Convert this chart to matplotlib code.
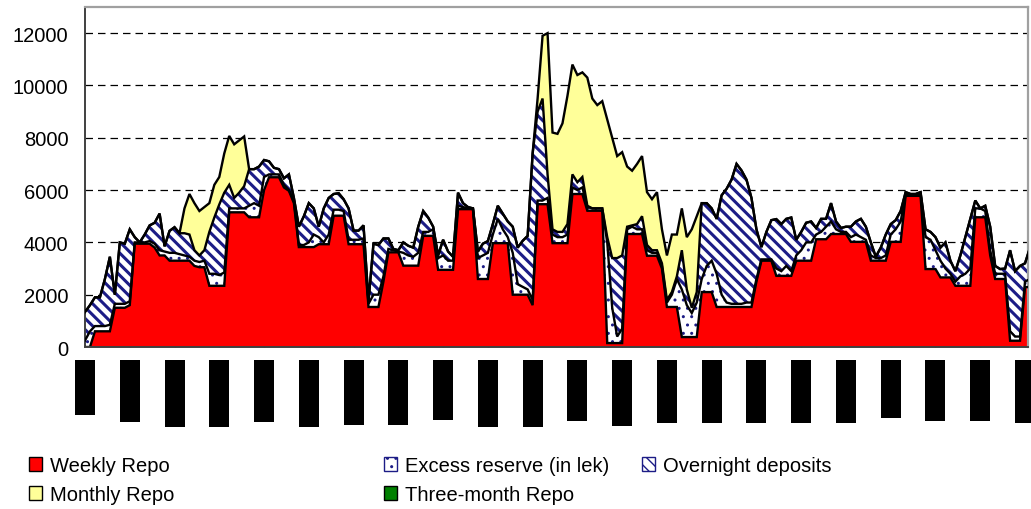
import numpy as np
import matplotlib
matplotlib.use("Agg")
import matplotlib.pyplot as plt
import matplotlib.transforms as mtransforms
from matplotlib.patches import Patch, Rectangle

plt.rcParams['font.family'] = ['Liberation Sans', 'DejaVu Sans']
plt.rcParams['hatch.color'] = '#1c1c86'

# daily observations, 9 steps per month tick
weekly_repo = [
    0, 0, 600, 600, 600, 600, 1500, 1500, 1500, 1600,
    3950, 3950, 3950, 3950, 3800, 3500, 3500, 3300, 3300, 3300,
    3300, 3300, 3100, 3050, 3050, 2340, 2340, 2340, 2340, 5150,
    5150, 5150, 5150, 4960, 4960, 4960, 6000, 6490, 6490, 6490,
    6100, 5970, 5500, 3820, 3820, 3820, 3820, 3930, 3930, 3930,
    5020, 5020, 5020, 3930, 3930, 3930, 3930, 1530, 1530, 1530,
    2500, 3620, 3620, 3620, 3110, 3110, 3110, 3110, 4250, 4250,
    4250, 2950, 2950, 2950, 2950, 5270, 5270, 5270, 5270, 2600,
    2600, 2600, 3970, 3970, 3970, 3970, 2000, 2000, 2000, 2000,
    1600, 5460, 5460, 5460, 3970, 3970, 3970, 3970, 5850, 5850,
    5850, 5210, 5210, 5210, 5210, 150, 150, 150, 150, 4320,
    4320, 4320, 4320, 3490, 3490, 3490, 3000, 1530, 1530, 1530,
    380, 380, 380, 380, 2100, 2100, 2100, 1530, 1530, 1530,
    1530, 1530, 1530, 1530, 1530, 2500, 3300, 3300, 3300, 2720,
    2720, 2720, 2720, 3300, 3300, 3300, 3300, 4120, 4120, 4120,
    4320, 4320, 4320, 4320, 4020, 4020, 4020, 4020, 3300, 3300,
    3300, 3300, 4020, 4020, 4020, 5780, 5780, 5780, 5780, 2980,
    2980, 2980, 2660, 2660, 2660, 2340, 2340, 2340, 2340, 4960,
    4960, 4960, 3500, 2600, 2600, 2600, 240, 240, 240, 2290,
    2290]

# weekly repo + excess reserve
reserve_top = [
    250, 600, 800, 800, 800, 850, 1650, 1650, 1650, 1750,
    4000, 4000, 4000, 4050, 3950, 3700, 3650, 3600, 3600, 3550,
    3500, 3450, 3300, 3250, 3300, 2800, 2800, 2750, 2850, 5300,
    5300, 5300, 5300, 5400, 5500, 5400, 6500, 6600, 6600, 6600,
    6200, 6000, 5600, 3900, 3900, 4000, 4300, 4200, 4000, 4300,
    5250, 5250, 5200, 4100, 4100, 4100, 4150, 1650, 2000, 2000,
    2700, 3750, 3700, 3650, 3600, 3500, 3450, 3600, 4400, 4400,
    4500, 3400, 3500, 3300, 3300, 5400, 5350, 5300, 5300, 3400,
    3500, 3600, 4300, 4900, 4500, 4200, 3600, 2400, 2300, 2200,
    1800, 5600, 5600, 5700, 4300, 4200, 4200, 4300, 6100, 6000,
    6100, 5350, 5300, 5300, 5300, 4000, 1500, 400, 700, 4500,
    4600, 4500, 4500, 3700, 3600, 3600, 3100, 1700, 2000, 2600,
    2200, 1600, 1300, 1700, 2600, 3100, 3300, 2800, 2000, 1700,
    1650, 1650, 1650, 1700, 1700, 2600, 3350, 3350, 3350, 3000,
    2900, 3100, 2900, 3500, 3700, 4000, 4000, 4300, 4400, 4600,
    4800, 4500, 4400, 4400, 4200, 4300, 4200, 4100, 3500, 3400,
    3400, 3500, 4300, 4500, 4800, 5850, 5800, 5800, 5850, 4200,
    4100, 3700, 3300, 3000, 2800, 2500, 2700, 2800, 3000, 5300,
    5300, 5200, 3700, 2800, 2800, 2800, 600, 400, 400, 2500,
    2600]

monthly_repo = [
    0, 0, 0, 0, 0, 0, 0, 0, 0, 0,
    0, 0, 0, 0, 0, 0, 0, 0, 0, 0,
    950, 1550, 1800, 1700, 1650, 1100, 1250, 1050, 1500, 1870,
    2050, 2000, 1900, 0, 0, 0, 0, 0, 0, 0,
    0, 0, 0, 0, 0, 0, 0, 0, 0, 0,
    0, 0, 0, 0, 0, 0, 0, 0, 0, 0,
    0, 0, 0, 0, 0, 0, 0, 0, 0, 0,
    0, 0, 0, 0, 0, 0, 0, 0, 0, 0,
    0, 0, 0, 0, 0, 0, 0, 0, 0, 0,
    0, 500, 2400, 5400, 3700, 3750, 4150, 4900, 4200, 4100,
    4000, 4900, 4200, 3950, 4100, 4500, 4600, 3900, 3950, 2300,
    2090, 2300, 2300, 2020, 1950, 2220, 1300, 1700, 2200, 1600,
    1600, 2000, 3000, 2900, 0, 0, 0, 0, 0, 0,
    0, 0, 0, 0, 0, 0, 0, 0, 0, 0,
    0, 0, 0, 0, 0, 0, 0, 0, 0, 0,
    0, 0, 0, 0, 0, 0, 0, 0, 0, 0,
    0, 0, 0, 0, 0, 0, 0, 0, 0, 0,
    0, 0, 0, 0, 0, 0, 0, 0, 0, 0,
    0, 0, 0, 0, 0, 0, 0, 0, 0, 0,
    0]

# total of all instruments
stack_top = [
    1340, 1600, 1900, 1900, 2600, 3450, 2000, 4000, 3950, 4500,
    4200, 4000, 4300, 4650, 4750, 5100, 3850, 4440, 4580, 4350,
    5300, 5850, 5500, 5200, 5350, 5500, 6200, 6500, 7400, 8070,
    7750, 7900, 8050, 6800, 6800, 6900, 7150, 7100, 6850, 6800,
    6450, 6600, 5700, 4600, 5000, 5500, 5300, 4600, 5300, 5700,
    5850, 5880, 5650, 5300, 4450, 4450, 4650, 1750, 3950, 3900,
    4150, 4150, 3750, 3700, 4000, 3870, 3800, 4600, 5200, 4950,
    4600, 3500, 4100, 3650, 3450, 5900, 5500, 5350, 5300, 3650,
    3950, 4050, 4700, 5400, 5100, 4800, 4600, 3800, 4060, 4250,
    7400, 9500, 11900, 12000, 8200, 8150, 8550, 9600, 10800, 10400,
    10500, 10300, 9500, 9250, 9400, 8700, 8000, 7300, 7450, 6900,
    6740, 7000, 7300, 5920, 5650, 5920, 4500, 3500, 4300, 4300,
    5300, 4200, 4500, 5000, 5500, 5500, 5300, 4900, 5800, 6050,
    6400, 7000, 6750, 6400, 5700, 4500, 3820, 4400, 4850, 4890,
    4700, 4900, 4950, 4100, 4400, 4750, 4800, 4550, 4900, 4900,
    5500, 4800, 4550, 4600, 4600, 4800, 4900, 4600, 4000, 3450,
    3800, 4300, 4700, 4850, 5200, 5920, 5850, 5850, 5920, 4500,
    4400, 4200, 3800, 4000, 3300, 2900, 3500, 4200, 4900, 5600,
    5300, 5400, 4600, 3100, 2980, 3000, 3700, 2900, 3100, 3200,
    3800]

three_month_repo = np.zeros(len(weekly_repo))

# hidden month labels: drawn as solid blocks, length in pixels
label_len = [55, 62, 67, 67, 62, 67, 65, 65, 60, 67, 67,
             61, 66, 63, 63, 63, 63, 63, 58, 61, 61, 63]

weekly = np.array(weekly_repo, float)
excess = np.array(reserve_top, float) - weekly
monthly = np.array(monthly_repo, float)
overnight = np.array(stack_top, float) - monthly - weekly - excess
x = np.arange(len(weekly))

y1 = weekly
y2 = y1 + excess
y3 = y2 + overnight
y4 = y3 + monthly
y5 = y4 + three_month_repo

fig = plt.figure(figsize=(10.31, 5.10), dpi=100)
ax = fig.add_axes([85/1031, 1-348/510, 943/1031, 340/510])

navy = '#1c1c86'
ax.fill_between(x, 0, y1, facecolor='#ff0000', lw=0, zorder=2)
with plt.rc_context({'hatch.linewidth': 1.0}):
    ax.fill_between(x, y1, y2, facecolor='white', edgecolor=navy, hatch='..', lw=0, zorder=2)
with plt.rc_context({'hatch.linewidth': 2.2}):
    ax.fill_between(x, y2, y3, facecolor='white', edgecolor=navy, hatch='\\\\\\', lw=0, zorder=2)
ax.fill_between(x, y3, y4, facecolor='#ffff99', lw=0, zorder=2)
ax.fill_between(x, y4, y5, facecolor='#008000', lw=0, zorder=2)
for y in (y1, y2, y3, y4):
    ax.plot(x, y, color='black', lw=1.7, zorder=3, solid_joinstyle='miter')

ax.set_xlim(0, 189.6)
ax.set_ylim(0, 13000)
ax.set_yticks(range(0, 12001, 2000))
ax.set_yticklabels([str(v) for v in range(0, 12001, 2000)], fontsize=14.5)
ax.tick_params(axis='y', length=0, pad=12)
ticks = np.arange(0, 190, 9)
ax.set_xticks(ticks)
ax.set_xticklabels([])
ax.tick_params(axis='x', direction='in', length=4, width=1, color='#333333')
ax.grid(axis='y', color='black', linestyle=(0, (6, 4)), lw=0.9)
ax.set_axisbelow(True)

for side in ('top', 'right'):
    ax.spines[side].set_color('#a0a0a0')
    ax.spines[side].set_linewidth(1.6)
for side in ('left', 'bottom'):
    ax.spines[side].set_color('#404040')
    ax.spines[side].set_linewidth(1.4)
ax.spines['bottom'].set_zorder(4)

# label blocks under the month ticks
trans = mtransforms.blended_transform_factory(ax.transData, ax.transAxes)
w_units = 20 / (943 / 189.6)
for t, h in zip(ticks, label_len):
    ax.add_patch(Rectangle((t - w_units / 2, -13 / 340), w_units, -h / 340,
                           transform=trans, facecolor='black', edgecolor='none',
                           clip_on=False))

leg_font = {'family': ['Liberation Sans', 'DejaVu Sans'], 'size': 14.5}
h_weekly = Patch(facecolor='#ff0000', edgecolor='black', lw=1)
h_monthly = Patch(facecolor='#ffff99', edgecolor='black', lw=1)
h_excess = Patch(facecolor='white', edgecolor=navy, hatch='..', lw=1)
h_three = Patch(facecolor='#008000', edgecolor='black', lw=1)
h_over = Patch(facecolor='white', edgecolor=navy, hatch='\\\\\\', lw=1)

columns = [
    ([h_weekly, h_monthly], ['Weekly Repo', 'Monthly Repo'], 29),
    ([h_excess, h_three], ['Excess reserve (in lek)', 'Three-month Repo'], 384),
    ([h_over], ['Overnight deposits'], 642),
]
for handles, labels, px in columns:
    fig.legend(handles, labels, loc='upper left', bbox_to_anchor=(px / 1031, 1 - 457 / 510),
               frameon=False, prop=leg_font, handlelength=0.65, handleheight=0.7,
               handletextpad=0.4, labelspacing=0.48, borderpad=0, borderaxespad=0)

fig.savefig('out.png', dpi=100)
